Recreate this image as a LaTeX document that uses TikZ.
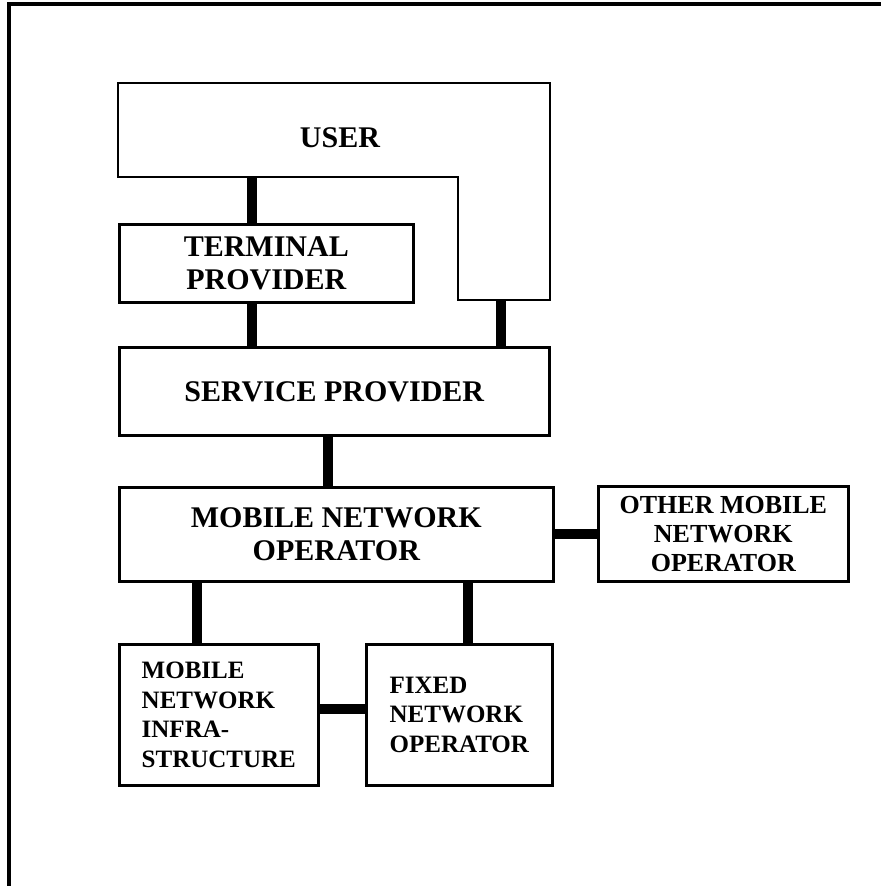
\documentclass[tikz,border=0pt]{standalone}
\usepackage{fontspec}
\setmainfont{Liberation Serif}
\begin{document}
\begin{tikzpicture}[x=1pt,y=-1pt,
  box/.style={draw, line width=2.6pt, inner sep=0pt, anchor=north west,
    font=\bfseries\fontsize{30}{33}\selectfont, align=center},
  smallbox/.style={box, font=\bfseries\fontsize{25}{29.5}\selectfont},
  link/.style={line width=10pt},
  outline/.style={line width=2.6pt, line join=miter}]
\useasboundingbox (0,0) rectangle (881,886);

% frame (top and left edges only)
\draw[line width=3.5pt] (9,886) -- (9,4) -- (881,4);

% user: L-shaped block wrapping the terminal provider
\draw[outline] (118,83) -- (550,83) -- (550,300) -- (458,300)
  -- (458,177) -- (118,177) -- cycle;
\node[font=\bfseries\fontsize{30}{33}\selectfont] (user) at (340,138) {USER};
\coordinate (userfoot) at (252,177);
\coordinate (userleg) at (501,300);

% role boxes
\node[box, minimum width=294pt, minimum height=78pt] (tp) at (118,223) {TERMINAL\\PROVIDER};
\node[box, minimum width=430pt, minimum height=88pt] (sp) at (118,346) {SERVICE PROVIDER};
\node[box, minimum width=434pt, minimum height=94pt] (mno) at (118,486) {MOBILE NETWORK\\OPERATOR};
\node[smallbox, font=\bfseries\fontsize{26}{29}\selectfont, minimum width=250pt, minimum height=95pt] (omno) at (597,485) {OTHER MOBILE\\NETWORK\\OPERATOR};
\node[smallbox, align=left, minimum width=199pt, minimum height=141pt] (mni) at (118,643) {MOBILE\\NETWORK\\INFRA-\\STRUCTURE};
\node[smallbox, align=left, minimum width=186pt, minimum height=141pt] (fno) at (365,643) {FIXED\\NETWORK\\OPERATOR};

% thick links
\draw[link] (userfoot) -- (userfoot |- tp.north);
\draw[link] (tp.south -| userfoot) -- (sp.north -| userfoot);
\draw[link] (userleg) -- (userleg |- sp.north);
\draw[link] ([xshift=-6pt]sp.south) -- ([xshift=-6pt]sp.south |- mno.north);
\draw[link] (mno.east) -- (omno.west |- mno.east);
\draw[link] ([xshift=-22pt]mni.north) -- ([xshift=-22pt]mni.north |- mno.south);
\draw[link] ([xshift=9pt]fno.north) -- ([xshift=9pt]fno.north |- mno.south);
\draw[link] ([yshift=5.5pt]mni.east) -- ([yshift=5.5pt]mni.east -| fno.west);
\end{tikzpicture}
\end{document}
